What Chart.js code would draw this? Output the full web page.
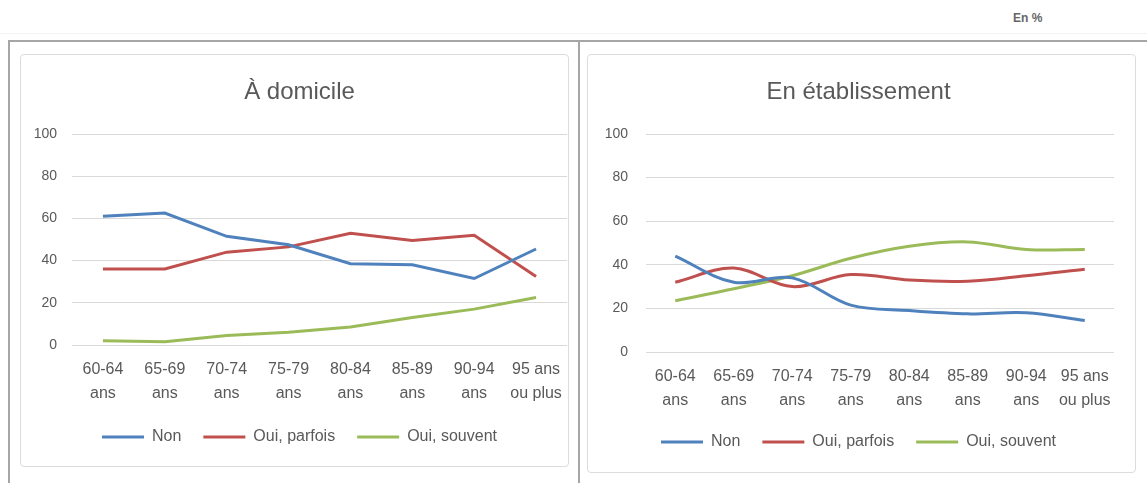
<!DOCTYPE html>
<html>
<head>
<meta charset="utf-8">
<script src="https://cdn.jsdelivr.net/npm/chart.js@4/dist/chart.umd.min.js"></script>
<style>
body{margin:0;background:#fff;font-family:"Liberation Sans",Arial,sans-serif}
#page{position:relative;width:1147px;height:483px;overflow:hidden}
.rule{position:absolute;background:#a6a6a6}
.box{position:absolute;border:1px solid #dcdcdc;border-radius:4px}
canvas{position:absolute}
#unit{position:absolute;left:1013px;top:11px;font-size:12px;font-weight:bold;color:#666}
</style>
</head>
<body>
<div id="page">
  <div class="rule" style="left:0;top:33px;width:1147px;height:1px;background:#f2f2f2"></div>
  <div id="unit">En %</div>
  <div class="rule" style="left:8px;top:40px;width:1139px;height:2px"></div>
  <div class="rule" style="left:8px;top:40px;width:2px;height:443px"></div>
  <div class="rule" style="left:578px;top:40px;width:2px;height:443px"></div>
  <div class="box" style="left:20px;top:54px;width:547px;height:411px"></div>
  <div class="box" style="left:587px;top:54px;width:547px;height:417px"></div>
  <canvas id="domicile" width="550" height="412" style="left:30px;top:54px"></canvas>
  <canvas id="etablissement" width="546" height="418" style="left:590px;top:54px"></canvas>
</div>
<script>
var ages=[['60-64','ans'],['65-69','ans'],['70-74','ans'],['75-79','ans'],['80-84','ans'],['85-89','ans'],['90-94','ans'],['95 ans','ou plus']]
var series=['Non','Oui, parfois','Oui, souvent']
var yTicks=[0,20,40,60,80,100]

// À domicile
var domicileNon=[61,62.5,51.5,47.5,38.5,38,31.5,45.5]
var domicileParfois=[36,36,44,46.5,53,49.5,52,32.5]
var domicileSouvent=[2,1.5,4.5,6,8.5,13,17,22.5]

// En établissement
var etabNon=[44,32,34,21.5,19,17.5,18,14.5]
var etabParfois=[32,38.5,30,35.5,33,32.5,35,38]
var etabSouvent=[23.5,29,35,43,48.5,50.5,47,47]

var colors=['#4f81bd','#c0504d','#9bbb59']
var grey='#595959'
var font="'Liberation Sans', Arial, sans-serif"

function makeChart(id,title,values,opt){
  var datasets=values.map(function(v,i){
    return {label:series[i],data:v,borderColor:colors[i],backgroundColor:colors[i],
      borderWidth:3,pointRadius:0,pointStyle:'line',tension:opt.tension,fill:false}
  })
  return new Chart(document.getElementById(id),{
    type:'line',
    data:{labels:ages,datasets:datasets},
    options:{
      responsive:false,
      animation:false,
      layout:{padding:{left:opt.left,right:opt.right,top:0,bottom:opt.bottom}},
      plugins:{
        title:{display:true,text:title,color:grey,font:{family:font,size:24,weight:'normal'},padding:{top:23.6,bottom:27.6}},
        legend:{position:'bottom',labels:{usePointStyle:true,pointStyleWidth:42,color:grey,padding:22,font:{family:font,size:16}}},
        tooltip:{enabled:false}
      },
      scales:{
        x:{
          offset:true,
          grid:{display:false,drawTicks:false},
          border:{display:false},
          ticks:{color:grey,padding:13.4,maxRotation:0,autoSkip:false,font:{family:font,size:16,lineHeight:1.45}},
          afterFit:function(a){a.height=opt.xHeight}
        },
        y:{
          min:0,max:100,
          afterBuildTicks:function(a){a.ticks=yTicks.map(function(v){return {value:v}})},
          grid:{color:'#d9d9d9',drawTicks:false},
          border:{display:false},
          ticks:{color:grey,padding:opt.yPad,font:{family:font,size:14}},
          afterFit:function(a){a.width=opt.yWidth}
        }
      }
    }
  })
}

makeChart('domicile','À domicile',[domicileNon,domicileParfois,domicileSouvent],
  {tension:0,left:2,right:13,bottom:11,xHeight:62,yWidth:40,yPad:15})
makeChart('etablissement','En établissement',[etabNon,etabParfois,etabSouvent],
  {tension:0.35,left:13,right:22,bottom:12,xHeight:60,yWidth:43,yPad:18})
</script>
</body>
</html>
